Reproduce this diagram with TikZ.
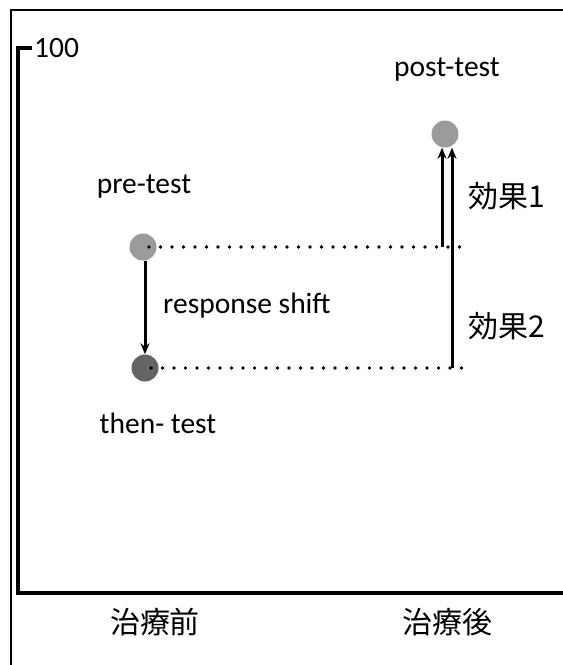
\documentclass[tikz,border=0pt]{standalone}
\usepackage{fontspec}
\setmainfont{Carlito}
\newfontfamily\jpfont{Noto Sans CJK JP}
\usetikzlibrary{arrows.meta}
\definecolor{lightdot}{RGB}{155,155,155}
\definecolor{darkdot}{RGB}{100,100,100}
\newcommand{\drawthick}{\draw[line width=3.4pt]}
\tikzset{
  dot/.style={circle, draw=none, minimum size=27pt, inner sep=0pt},
  lbl/.style={font=\fontsize{29.5}{32}\selectfont, inner sep=0pt},
  jplbl/.style={font=\fontsize{30}{32}\selectfont\jpfont, inner sep=0pt},
  dotline/.style={line width=3.6pt, line cap=round, dash pattern=on 0pt off 11.5pt},
  arr/.style={line width=3pt, -{Stealth[length=11pt,width=9pt]}}
}

\begin{document}
\begin{tikzpicture}[x=1pt,y=-1pt]
\useasboundingbox (0,0) rectangle (563,665);
\draw[line width=1.6pt] (563,10)--(11,10)--(11,665);
\drawthick (32,48)--(18,48)--(18,593)--(563,593);
\node[lbl, anchor=west] (top) at (34,48) {100};
% the three measurements
\node[dot, fill=lightdot] (pre) at (143,247) {};
\node[dot, fill=darkdot] (then) at (145,368) {};
\node[dot, fill=lightdot] (post) at (445,134) {};
\node[lbl] (prelbl) at (144,187) {pre-test};
\node[lbl] (thenlbl) at (158,423) {then- test};
\node[lbl] (postlbl) at (447,70) {post-test};
\node[lbl, anchor=west] (shiftlbl) at (163,306) {response shift};
% levels
\coordinate (preend) at (463,247);
\coordinate (thenend) at (463,368);
\draw[dotline] ([xshift=6pt]pre.center)--(preend);
\draw[dotline] ([xshift=6pt]then.center)--(thenend);
\draw[arr] (pre.south -| then)--(then.north);
\coordinate (effA) at (442,247);
\coordinate (effB) at (452,368);
\draw[arr] (effA)--(effA |- post.south);
\draw[arr] (effB)--(effB |- post.south);
\node[jplbl, anchor=west] (effAlbl) at (468,196) {効果1};
\node[jplbl, anchor=west] (effBlbl) at (468,326) {効果2};
% time points
\node[jplbl] (before) at (155,622) {治療前};
\node[jplbl] (after) at (447,622) {治療後};
\end{tikzpicture}
\end{document}
